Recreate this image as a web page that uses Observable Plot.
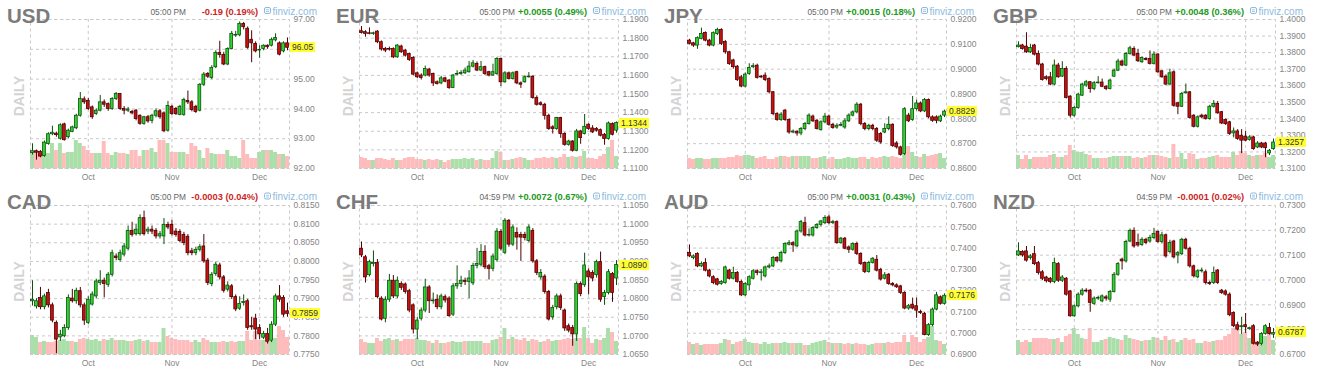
<!DOCTYPE html>
<html><head><meta charset="utf-8">
<script src="https://cdn.jsdelivr.net/npm/d3@7"></script>
<script src="https://cdn.jsdelivr.net/npm/@observablehq/plot@0.6"></script>
<style>
body{margin:0;background:#fff;}
#root{position:relative;width:1319px;height:382px;overflow:hidden;font-family:"Liberation Sans",Arial,sans-serif;}
.panel{position:absolute;width:330px;height:191px;}
.panel svg{position:absolute;left:0;top:0;}
.last{position:absolute;left:290px;height:10px;line-height:10px;padding:0 2px;font-size:8.5px;background:#ffff33;color:#333;white-space:nowrap;}
</style></head><body><div id="root"></div>
<script>
// Trading days (Sep 13 – Dec 10, 2021)
const dates = [
"2021-09-13","2021-09-14","2021-09-15","2021-09-16","2021-09-17","2021-09-20","2021-09-21","2021-09-22","2021-09-23","2021-09-24","2021-09-27","2021-09-28","2021-09-29","2021-09-30",
"2021-10-01","2021-10-04","2021-10-05","2021-10-06","2021-10-07","2021-10-08","2021-10-11","2021-10-12","2021-10-13","2021-10-14","2021-10-15","2021-10-18","2021-10-19","2021-10-20","2021-10-21","2021-10-22","2021-10-25","2021-10-26","2021-10-27","2021-10-28","2021-10-29",
"2021-11-01","2021-11-02","2021-11-03","2021-11-04","2021-11-05","2021-11-08","2021-11-09","2021-11-10","2021-11-11","2021-11-12","2021-11-15","2021-11-16","2021-11-17","2021-11-18","2021-11-19","2021-11-22","2021-11-23","2021-11-24","2021-11-25","2021-11-26","2021-11-29","2021-11-30",
"2021-12-01","2021-12-02","2021-12-03","2021-12-06","2021-12-07","2021-12-08","2021-12-09","2021-12-10"];
const monthTicks = ["2021-10-01","2021-11-01","2021-12-01"];
const monthLabels = ["Oct","Nov","Dec"];

// Each row: [open, high, low, close, relative volume]
const USD = [
[92.52,92.83,92.45,92.58,16],[92.58,92.62,92.28,92.53,16],[92.56,92.60,92.36,92.40,15],[92.42,92.92,92.38,92.87,14],[92.82,93.20,92.78,93.15,15],
[93.15,93.42,93.10,93.20,25],[93.17,93.22,93.05,93.12,18],[93.00,93.50,92.95,93.45,25],[93.48,93.52,92.92,92.95,15],[93.05,93.32,93.00,93.27,16],
[93.23,93.42,93.20,93.38,16],[93.35,93.82,93.30,93.77,28],[93.77,94.55,93.72,94.33,25],[94.32,94.40,94.15,94.22,22],[94.27,94.35,93.95,94.00,18],
[94.05,94.10,93.65,93.72,15],[93.83,94.00,93.78,93.94,15],[93.94,94.45,93.90,94.22,15],[94.22,94.30,94.05,94.14,27],[94.16,94.20,93.92,94.00,15],
[94.00,94.38,93.95,94.33,13],[94.33,94.55,94.28,94.50,16],[94.50,94.52,93.95,94.00,15],[94.00,94.08,93.80,93.94,15],[93.94,94.05,93.88,93.98,14],
[93.90,93.95,93.80,93.85,18],[93.94,93.98,93.60,93.66,18],[93.77,93.80,93.45,93.50,12],[93.50,93.75,93.45,93.72,18],[93.72,93.78,93.52,93.58,18],
[93.60,93.82,93.50,93.77,20],[93.77,94.00,93.70,93.92,16],[93.92,93.98,93.65,93.72,28],[93.85,93.90,93.20,93.25,28],[93.27,94.25,93.22,94.10,25],
[94.07,94.12,93.78,93.83,16],[94.00,94.05,93.78,93.83,16],[93.80,94.12,93.77,94.07,16],[93.80,94.36,93.75,94.30,16],[94.27,94.60,94.15,94.22,14],
[94.22,94.28,93.90,93.96,25],[94.07,94.12,93.85,93.90,22],[93.94,94.85,93.90,94.81,18],[94.81,95.22,94.75,95.15,10],[95.17,95.22,95.02,95.08,20],
[95.04,95.45,94.98,95.37,15],[95.40,95.95,95.35,95.88,14],[95.88,96.27,95.70,95.81,14],[95.81,95.90,95.45,95.49,14],[95.49,96.05,95.45,96.01,18],
[96.01,96.60,95.98,96.52,12],[96.46,96.60,96.40,96.48,12],[96.47,96.92,96.42,96.85,10],[96.85,96.90,96.65,96.74,28],[96.69,96.75,96.00,96.05,14],
[96.32,96.62,95.55,96.20,10],[96.18,96.25,95.88,95.93,10],[95.96,96.12,95.70,95.98,16],[96.01,96.15,95.95,96.12,18],[96.12,96.15,96.00,96.07,18],
[96.12,96.38,96.08,96.32,18],[96.30,96.52,96.25,96.38,16],[96.20,96.25,95.78,95.82,14],[95.93,96.25,95.88,96.20,14],[96.20,96.38,95.95,96.05,12]];

const EUR = [
[1.1837,1.1862,1.1822,1.1828,11],[1.1832,1.1840,1.1805,1.1823,10],[1.1826,1.1855,1.1818,1.1823,8],[1.1823,1.1832,1.1815,1.1826,8],[1.1835,1.1840,1.1770,1.1778,10],
[1.1778,1.1785,1.1730,1.1739,10],[1.1742,1.1750,1.1722,1.1733,9],[1.1742,1.1752,1.1730,1.1738,8],[1.1742,1.1748,1.1690,1.1697,10],[1.1697,1.1765,1.1692,1.1760,8],
[1.1755,1.1762,1.1718,1.1724,8],[1.1733,1.1740,1.1698,1.1706,10],[1.1715,1.1720,1.1675,1.1683,11],[1.1694,1.1700,1.1598,1.1604,11],[1.1611,1.1618,1.1582,1.1590,9],
[1.1599,1.1608,1.1575,1.1586,9],[1.1599,1.1650,1.1592,1.1634,8],[1.1631,1.1638,1.1590,1.1599,9],[1.1608,1.1612,1.1540,1.1557,8],[1.1563,1.1570,1.1548,1.1554,9],
[1.1557,1.1595,1.1550,1.1584,8],[1.1584,1.1590,1.1560,1.1566,6],[1.1572,1.1578,1.1525,1.1532,8],[1.1532,1.1605,1.1530,1.1599,9],[1.1604,1.1625,1.1598,1.1608,9],
[1.1608,1.1625,1.1600,1.1613,9],[1.1611,1.1640,1.1605,1.1626,10],[1.1617,1.1675,1.1612,1.1647,9],[1.1647,1.1680,1.1640,1.1665,10],[1.1661,1.1672,1.1620,1.1626,8],
[1.1626,1.1675,1.1620,1.1644,9],[1.1644,1.1650,1.1600,1.1608,8],[1.1617,1.1622,1.1592,1.1599,8],[1.1599,1.1660,1.1595,1.1617,10],[1.1608,1.1695,1.1600,1.1688,17],
[1.1688,1.1692,1.1540,1.1563,16],[1.1563,1.1620,1.1558,1.1611,8],[1.1611,1.1618,1.1575,1.1581,8],[1.1581,1.1618,1.1575,1.1611,9],[1.1617,1.1622,1.1550,1.1557,10],
[1.1557,1.1565,1.1530,1.1550,11],[1.1563,1.1598,1.1558,1.1590,10],[1.1590,1.1615,1.1585,1.1593,8],[1.1593,1.1598,1.1472,1.1478,8],[1.1478,1.1490,1.1435,1.1442,10],
[1.1450,1.1458,1.1435,1.1442,10],[1.1442,1.1450,1.1360,1.1383,11],[1.1383,1.1392,1.1305,1.1312,10],[1.1321,1.1330,1.1285,1.1312,11],[1.1312,1.1375,1.1305,1.1371,10],
[1.1371,1.1375,1.1262,1.1285,11],[1.1285,1.1292,1.1220,1.1227,14],[1.1227,1.1252,1.1220,1.1245,11],[1.1245,1.1250,1.1188,1.1195,12],[1.1195,1.1310,1.1190,1.1299,11],
[1.1299,1.1305,1.1230,1.1263,12],[1.1285,1.1390,1.1280,1.1324,17],[1.1335,1.1340,1.1305,1.1312,10],[1.1315,1.1330,1.1288,1.1294,10],[1.1312,1.1320,1.1295,1.1303,9],
[1.1306,1.1312,1.1270,1.1276,12],[1.1281,1.1288,1.1225,1.1258,14],[1.1258,1.1350,1.1252,1.1342,21],[1.1339,1.1345,1.1275,1.1281,28],[1.1303,1.1350,1.1290,1.1344,12]];

const JPY = [
[0.9115,0.9120,0.9098,0.9102,10],[0.9104,0.9108,0.9088,0.9095,9],[0.9095,0.9130,0.9080,0.9125,10],[0.9122,0.9165,0.9118,0.9142,10],[0.9146,0.9150,0.9110,0.9115,9],
[0.9115,0.9120,0.9090,0.9095,9],[0.9095,0.9150,0.9090,0.9145,10],[0.9142,0.9165,0.9135,0.9158,10],[0.9158,0.9163,0.9095,0.9102,10],[0.9109,0.9115,0.9060,0.9068,10],
[0.9068,0.9072,0.9015,0.9021,11],[0.9035,0.9040,0.9000,0.9008,11],[0.9010,0.9015,0.8950,0.8956,13],[0.8967,0.8975,0.8925,0.8930,12],[0.8930,0.8985,0.8925,0.8978,13],
[0.8981,0.9022,0.8975,0.9005,13],[0.9008,0.9022,0.9002,0.9012,12],[0.9014,0.9020,0.8960,0.8965,10],[0.8970,0.8975,0.8962,0.8967,11],[0.8974,0.8985,0.8950,0.8956,12],
[0.8960,0.8965,0.8900,0.8907,9],[0.8907,0.8910,0.8812,0.8819,9],[0.8819,0.8825,0.8790,0.8795,11],[0.8795,0.8825,0.8790,0.8817,12],[0.8833,0.8838,0.8790,0.8795,12],
[0.8795,0.8800,0.8738,0.8745,11],[0.8745,0.8755,0.8740,0.8749,12],[0.8748,0.8752,0.8730,0.8741,12],[0.8741,0.8765,0.8732,0.8759,12],[0.8759,0.8785,0.8752,0.8779,12],
[0.8779,0.8820,0.8775,0.8813,12],[0.8809,0.8815,0.8785,0.8790,10],[0.8792,0.8798,0.8755,0.8759,10],[0.8755,0.8792,0.8750,0.8786,11],[0.8786,0.8822,0.8780,0.8809,12],
[0.8809,0.8815,0.8770,0.8776,9],[0.8776,0.8782,0.8758,0.8763,11],[0.8765,0.8780,0.8758,0.8772,9],[0.8772,0.8785,0.8768,0.8775,9],[0.8765,0.8800,0.8758,0.8790,10],
[0.8790,0.8820,0.8785,0.8813,11],[0.8813,0.8832,0.8808,0.8826,10],[0.8826,0.8865,0.8820,0.8857,10],[0.8857,0.8862,0.8772,0.8779,11],[0.8779,0.8785,0.8752,0.8759,11],
[0.8759,0.8778,0.8752,0.8772,9],[0.8772,0.8778,0.8752,0.8759,11],[0.8759,0.8765,0.8705,0.8712,10],[0.8739,0.8745,0.8698,0.8705,11],[0.8745,0.8780,0.8740,0.8759,12],
[0.8759,0.8808,0.8752,0.8776,11],[0.8776,0.8780,0.8685,0.8691,12],[0.8701,0.8708,0.8678,0.8685,11],[0.8685,0.8690,0.8650,0.8655,10],[0.8658,0.8845,0.8652,0.8839,15],
[0.8813,0.8822,0.8785,0.8790,22],[0.8795,0.8890,0.8790,0.8839,16],[0.8839,0.8875,0.8832,0.8862,12],[0.8862,0.8868,0.8825,0.8830,11],[0.8830,0.8882,0.8825,0.8876,14],
[0.8876,0.8880,0.8800,0.8806,12],[0.8806,0.8812,0.8786,0.8792,13],[0.8806,0.8812,0.8780,0.8792,14],[0.8790,0.8815,0.8785,0.8809,15],[0.8813,0.8835,0.8805,0.8829,10]];

const GBP = [
[1.3833,1.3865,1.3828,1.3843,13],[1.3843,1.3850,1.3815,1.3822,9],[1.3836,1.3920,1.3795,1.3802,13],[1.3802,1.3850,1.3795,1.3828,9],[1.3843,1.3850,1.3780,1.3788,11],
[1.3792,1.3810,1.3720,1.3728,11],[1.3728,1.3735,1.3628,1.3635,11],[1.3651,1.3660,1.3630,1.3641,11],[1.3651,1.3680,1.3600,1.3607,13],[1.3607,1.3755,1.3600,1.3722,14],
[1.3722,1.3735,1.3645,1.3651,11],[1.3655,1.3745,1.3650,1.3701,11],[1.3701,1.3715,1.3520,1.3526,13],[1.3534,1.3540,1.3405,1.3419,23],[1.3419,1.3475,1.3410,1.3465,18],
[1.3465,1.3555,1.3458,1.3546,16],[1.3540,1.3615,1.3535,1.3607,16],[1.3601,1.3632,1.3590,1.3621,14],[1.3621,1.3625,1.3555,1.3580,13],[1.3580,1.3625,1.3570,1.3615,10],
[1.3615,1.3655,1.3610,1.3619,10],[1.3619,1.3640,1.3588,1.3594,10],[1.3594,1.3600,1.3570,1.3580,10],[1.3580,1.3640,1.3575,1.3631,11],[1.3655,1.3700,1.3650,1.3691,12],
[1.3691,1.3760,1.3685,1.3746,12],[1.3746,1.3755,1.3715,1.3722,12],[1.3722,1.3800,1.3715,1.3792,12],[1.3792,1.3838,1.3785,1.3826,12],[1.3822,1.3835,1.3775,1.3782,10],
[1.3792,1.3820,1.3740,1.3748,11],[1.3742,1.3775,1.3735,1.3768,10],[1.3762,1.3770,1.3750,1.3756,11],[1.3762,1.3810,1.3725,1.3732,13],[1.3732,1.3805,1.3725,1.3788,13],
[1.3788,1.3795,1.3675,1.3681,13],[1.3687,1.3692,1.3645,1.3651,12],[1.3655,1.3665,1.3600,1.3607,11],[1.3607,1.3700,1.3600,1.3675,10],[1.3681,1.3690,1.3470,1.3479,24],
[1.3494,1.3500,1.3425,1.3473,11],[1.3473,1.3560,1.3468,1.3550,15],[1.3554,1.3610,1.3550,1.3560,9],[1.3560,1.3565,1.3398,1.3405,15],[1.3419,1.3425,1.3345,1.3352,14],
[1.3352,1.3418,1.3345,1.3409,9],[1.3419,1.3428,1.3400,1.3409,10],[1.3419,1.3425,1.3392,1.3399,10],[1.3399,1.3482,1.3392,1.3473,11],[1.3473,1.3510,1.3465,1.3490,12],
[1.3490,1.3505,1.3428,1.3433,13],[1.3440,1.3445,1.3365,1.3372,11],[1.3393,1.3400,1.3360,1.3368,11],[1.3379,1.3385,1.3300,1.3308,11],[1.3312,1.3345,1.3285,1.3324,16],
[1.3324,1.3335,1.3270,1.3278,13],[1.3298,1.3335,1.3190,1.3268,17],[1.3292,1.3325,1.3262,1.3268,15],[1.3272,1.3298,1.3265,1.3288,13],[1.3288,1.3295,1.3210,1.3217,12],
[1.3227,1.3262,1.3220,1.3251,13],[1.3251,1.3258,1.3220,1.3227,13],[1.3251,1.3258,1.3165,1.3223,15],[1.3191,1.3215,1.3178,1.3207,11],[1.3217,1.3278,1.3210,1.3257,13]];

const CAD = [
[0.7893,0.7948,0.7880,0.7897,19],[0.7879,0.7900,0.7872,0.7893,17],[0.7902,0.7930,0.7870,0.7877,12],[0.7877,0.7912,0.7870,0.7906,13],[0.7915,0.7925,0.7875,0.7882,12],
[0.7882,0.7888,0.7835,0.7841,12],[0.7835,0.7840,0.7752,0.7790,13],[0.7796,0.7815,0.7785,0.7803,14],[0.7799,0.7830,0.7795,0.7821,15],[0.7821,0.7910,0.7815,0.7902,13],
[0.7900,0.7925,0.7888,0.7893,13],[0.7893,0.7928,0.7885,0.7921,12],[0.7920,0.7930,0.7875,0.7882,15],[0.7882,0.7888,0.7828,0.7841,16],[0.7835,0.7905,0.7830,0.7897,15],
[0.7884,0.7918,0.7880,0.7911,14],[0.7906,0.7952,0.7900,0.7946,15],[0.7942,0.7975,0.7935,0.7948,13],[0.7948,0.7955,0.7902,0.7939,15],[0.7937,0.7970,0.7930,0.7964,14],
[0.7964,0.8030,0.7958,0.8022,16],[0.8013,0.8020,0.8002,0.8009,14],[0.8004,0.8030,0.7998,0.8022,14],[0.8018,0.8048,0.8012,0.8040,14],[0.8034,0.8095,0.8028,0.8082,13],
[0.8082,0.8105,0.8065,0.8071,13],[0.8073,0.8100,0.8068,0.8085,14],[0.8073,0.8125,0.8068,0.8116,15],[0.8116,0.8135,0.8068,0.8073,13],[0.8080,0.8092,0.8072,0.8085,14],
[0.8085,0.8095,0.8072,0.8080,12],[0.8082,0.8088,0.8060,0.8067,12],[0.8067,0.8080,0.8060,0.8073,12],[0.8067,0.8115,0.8045,0.8098,26],[0.8098,0.8105,0.8085,0.8091,18],
[0.8098,0.8110,0.8068,0.8073,16],[0.8080,0.8088,0.8065,0.8071,15],[0.8079,0.8085,0.8050,0.8055,14],[0.8071,0.8078,0.8042,0.8049,14],[0.8066,0.8072,0.8015,0.8022,14],
[0.8027,0.8035,0.8015,0.8022,12],[0.8022,0.8038,0.8015,0.8031,14],[0.8031,0.8045,0.8025,0.8038,12],[0.8040,0.8072,0.7995,0.8000,16],[0.8002,0.8008,0.7935,0.7942,14],
[0.7939,0.7970,0.7932,0.7964,12],[0.7966,0.7998,0.7960,0.7991,12],[0.7989,0.7995,0.7950,0.7957,12],[0.7957,0.7962,0.7915,0.7921,13],[0.7924,0.7945,0.7918,0.7935,12],
[0.7933,0.7938,0.7898,0.7904,13],[0.7904,0.7910,0.7865,0.7871,12],[0.7873,0.7905,0.7868,0.7886,13],[0.7888,0.7910,0.7880,0.7891,13],[0.7893,0.7898,0.7815,0.7821,23],
[0.7826,0.7850,0.7815,0.7823,14],[0.7846,0.7858,0.7790,0.7817,23],[0.7821,0.7830,0.7790,0.7804,14],[0.7795,0.7812,0.7790,0.7805,14],[0.7805,0.7820,0.7778,0.7784,12],
[0.7787,0.7838,0.7782,0.7830,13],[0.7830,0.7912,0.7825,0.7906,16],[0.7906,0.7935,0.7890,0.7897,28],[0.7902,0.7908,0.7850,0.7857,24],[0.7866,0.7888,0.7850,0.7859,17]];

const CHF = [
[1.0934,1.0952,1.0910,1.0916,15],[1.0911,1.0916,1.0842,1.0857,12],[1.0863,1.0903,1.0858,1.0898,11],[1.0893,1.0928,1.0885,1.0896,11],[1.0896,1.0905,1.0800,1.0804,16],
[1.0800,1.0805,1.0740,1.0744,13],[1.0746,1.0805,1.0735,1.0797,15],[1.0797,1.0865,1.0790,1.0848,16],[1.0848,1.0862,1.0800,1.0806,14],[1.0806,1.0858,1.0800,1.0848,15],
[1.0839,1.0845,1.0822,1.0829,13],[1.0838,1.0842,1.0812,1.0818,15],[1.0820,1.0825,1.0762,1.0768,15],[1.0782,1.0786,1.0705,1.0717,15],[1.0717,1.0750,1.0690,1.0741,16],
[1.0746,1.0775,1.0740,1.0768,14],[1.0768,1.0852,1.0762,1.0830,14],[1.0830,1.0835,1.0760,1.0793,13],[1.0793,1.0815,1.0785,1.0795,11],[1.0797,1.0810,1.0770,1.0777,14],
[1.0777,1.0812,1.0770,1.0806,11],[1.0804,1.0810,1.0788,1.0795,11],[1.0800,1.0805,1.0750,1.0753,12],[1.0757,1.0840,1.0752,1.0833,13],[1.0833,1.0888,1.0825,1.0839,12],
[1.0839,1.0860,1.0830,1.0848,12],[1.0848,1.0855,1.0835,1.0845,13],[1.0845,1.0875,1.0800,1.0854,13],[1.0841,1.0895,1.0835,1.0888,13],[1.0888,1.0935,1.0880,1.0893,13],
[1.0891,1.0945,1.0885,1.0925,13],[1.0925,1.0942,1.0878,1.0884,11],[1.0887,1.0892,1.0850,1.0880,11],[1.0880,1.0920,1.0872,1.0913,14],[1.0904,1.0988,1.0898,1.0980,15],
[1.0979,1.0985,1.0928,1.0934,17],[1.0923,1.1015,1.0918,1.1009,26],[1.1009,1.1012,1.0938,1.0945,15],[1.0945,1.0998,1.0940,1.0991,17],[1.0976,1.0990,1.0930,1.0964,15],
[1.0971,1.0978,1.0900,1.0964,14],[1.0971,1.0978,1.0955,1.0963,16],[1.0955,1.0998,1.0950,1.0991,13],[1.0982,1.0988,1.0895,1.0900,15],[1.0900,1.0905,1.0862,1.0869,14],
[1.0857,1.0878,1.0850,1.0869,12],[1.0859,1.0864,1.0812,1.0818,13],[1.0818,1.0822,1.0740,1.0744,15],[1.0750,1.0782,1.0742,1.0775,13],[1.0777,1.0812,1.0770,1.0806,14],
[1.0806,1.0812,1.0768,1.0775,14],[1.0768,1.0772,1.0712,1.0720,15],[1.0726,1.0732,1.0708,1.0714,16],[1.0721,1.0728,1.0672,1.0704,15],[1.0704,1.0845,1.0685,1.0839,16],
[1.0839,1.0845,1.0805,1.0812,16],[1.0836,1.0922,1.0830,1.0889,27],[1.0873,1.0880,1.0810,1.0857,16],[1.0869,1.0875,1.0845,1.0854,11],[1.0863,1.0903,1.0855,1.0898,15],
[1.0898,1.0925,1.0790,1.0797,14],[1.0804,1.0822,1.0782,1.0815,16],[1.0815,1.0878,1.0810,1.0871,26],[1.0866,1.0870,1.0790,1.0815,22],[1.0854,1.0902,1.0835,1.0890,13]];

const AUD = [
[0.7377,0.7415,0.7355,0.7361,12],[0.7353,0.7368,0.7345,0.7361,10],[0.7372,0.7378,0.7308,0.7314,11],[0.7314,0.7335,0.7308,0.7325,9],[0.7330,0.7350,0.7288,0.7294,10],
[0.7294,0.7300,0.7260,0.7267,10],[0.7263,0.7270,0.7228,0.7236,10],[0.7253,0.7258,0.7222,0.7228,10],[0.7231,0.7248,0.7225,0.7241,11],[0.7236,0.7315,0.7230,0.7309,15],
[0.7294,0.7300,0.7250,0.7256,14],[0.7256,0.7310,0.7250,0.7283,10],[0.7283,0.7290,0.7235,0.7241,12],[0.7241,0.7250,0.7172,0.7178,13],[0.7178,0.7238,0.7172,0.7231,15],
[0.7225,0.7270,0.7200,0.7263,12],[0.7256,0.7298,0.7250,0.7291,11],[0.7291,0.7298,0.7270,0.7283,11],[0.7283,0.7298,0.7245,0.7286,10],[0.7267,0.7315,0.7260,0.7309,12],
[0.7309,0.7325,0.7302,0.7314,10],[0.7314,0.7360,0.7308,0.7353,11],[0.7353,0.7360,0.7330,0.7338,11],[0.7338,0.7385,0.7330,0.7377,11],[0.7377,0.7425,0.7370,0.7419,12],
[0.7416,0.7435,0.7410,0.7423,11],[0.7423,0.7430,0.7380,0.7413,11],[0.7408,0.7485,0.7402,0.7478,11],[0.7478,0.7530,0.7470,0.7522,11],[0.7517,0.7545,0.7452,0.7459,9],
[0.7459,0.7490,0.7452,0.7462,9],[0.7459,0.7500,0.7452,0.7494,11],[0.7494,0.7515,0.7488,0.7509,12],[0.7509,0.7530,0.7500,0.7525,13],[0.7517,0.7552,0.7510,0.7541,14],
[0.7544,0.7555,0.7510,0.7517,12],[0.7517,0.7530,0.7510,0.7522,11],[0.7522,0.7528,0.7418,0.7423,11],[0.7423,0.7450,0.7418,0.7444,11],[0.7444,0.7450,0.7392,0.7397,10],
[0.7403,0.7410,0.7375,0.7392,11],[0.7392,0.7425,0.7385,0.7419,10],[0.7419,0.7428,0.7365,0.7372,11],[0.7372,0.7378,0.7318,0.7325,10],[0.7330,0.7335,0.7280,0.7288,10],
[0.7288,0.7338,0.7282,0.7330,9],[0.7330,0.7355,0.7325,0.7350,10],[0.7345,0.7365,0.7288,0.7294,11],[0.7298,0.7305,0.7245,0.7252,11],[0.7256,0.7285,0.7250,0.7272,11],
[0.7275,0.7280,0.7225,0.7231,12],[0.7231,0.7238,0.7218,0.7225,11],[0.7225,0.7232,0.7210,0.7216,12],[0.7220,0.7225,0.7182,0.7189,12],[0.7189,0.7195,0.7110,0.7116,19],
[0.7116,0.7135,0.7108,0.7127,12],[0.7134,0.7165,0.7110,0.7116,19],[0.7127,0.7165,0.7070,0.7106,17],[0.7100,0.7108,0.7088,0.7095,12],[0.7091,0.7098,0.6988,0.6991,15],
[0.6991,0.7045,0.6985,0.7038,17],[0.7038,0.7118,0.7030,0.7111,28],[0.7111,0.7192,0.7105,0.7178,14],[0.7169,0.7175,0.7132,0.7138,13],[0.7138,0.7185,0.7132,0.7176,10]];

const NZD = [
[0.7099,0.7150,0.7095,0.7115,14],[0.7113,0.7118,0.7092,0.7099,12],[0.7115,0.7135,0.7072,0.7078,14],[0.7088,0.7102,0.7080,0.7095,12],[0.7104,0.7135,0.7058,0.7064,16],
[0.7068,0.7075,0.7020,0.7028,16],[0.7031,0.7038,0.6998,0.7005,16],[0.7010,0.7015,0.6988,0.6995,16],[0.7005,0.7010,0.6985,0.6992,15],[0.6992,0.7088,0.6985,0.7068,15],
[0.7064,0.7070,0.6990,0.6997,16],[0.6997,0.7018,0.6990,0.7010,12],[0.7005,0.7010,0.6935,0.6941,18],[0.6954,0.6958,0.6850,0.6854,20],[0.6854,0.6900,0.6850,0.6894,26],
[0.6894,0.6948,0.6888,0.6941,20],[0.6941,0.6965,0.6935,0.6957,16],[0.6957,0.6965,0.6948,0.6954,15],[0.6957,0.6962,0.6870,0.6908,26],[0.6904,0.6932,0.6898,0.6925,12],
[0.6925,0.6935,0.6918,0.6928,12],[0.6914,0.6940,0.6908,0.6934,14],[0.6930,0.6938,0.6915,0.6925,15],[0.6921,0.6958,0.6910,0.6952,17],[0.6952,0.7030,0.6948,0.7021,16],
[0.7021,0.7070,0.7015,0.7064,15],[0.7082,0.7088,0.7040,0.7075,14],[0.7075,0.7160,0.7068,0.7153,19],[0.7155,0.7205,0.7150,0.7198,16],[0.7198,0.7210,0.7128,0.7135,15],
[0.7149,0.7185,0.7132,0.7139,14],[0.7141,0.7170,0.7135,0.7162,13],[0.7162,0.7168,0.7142,0.7149,14],[0.7155,0.7180,0.7148,0.7169,14],[0.7169,0.7208,0.7162,0.7185,17],
[0.7193,0.7198,0.7148,0.7153,16],[0.7153,0.7192,0.7145,0.7180,14],[0.7180,0.7185,0.7088,0.7095,18],[0.7113,0.7160,0.7105,0.7149,14],[0.7155,0.7160,0.7085,0.7091,15],
[0.7099,0.7115,0.7065,0.7108,12],[0.7104,0.7168,0.7098,0.7162,14],[0.7162,0.7168,0.7120,0.7126,16],[0.7126,0.7132,0.7048,0.7055,14],[0.7055,0.7060,0.7008,0.7015,15],
[0.7011,0.7042,0.7005,0.7035,11],[0.7035,0.7048,0.7028,0.7038,11],[0.7031,0.7040,0.6980,0.6988,13],[0.6988,0.6995,0.6978,0.6984,12],[0.6988,0.7052,0.6982,0.7028,13],
[0.7038,0.7042,0.6982,0.6988,14],[0.6957,0.6962,0.6942,0.6948,14],[0.6954,0.6960,0.6935,0.6941,18],[0.6941,0.6948,0.6852,0.6858,20],[0.6867,0.6872,0.6808,0.6814,26],
[0.6818,0.6830,0.6795,0.6800,24],[0.6810,0.6850,0.6780,0.6814,20],[0.6818,0.6865,0.6785,0.6810,22],[0.6802,0.6810,0.6798,0.6806,16],[0.6814,0.6820,0.6738,0.6743,20],
[0.6747,0.6752,0.6732,0.6740,13],[0.6743,0.6788,0.6735,0.6783,14],[0.6783,0.6820,0.6778,0.6814,18],[0.6807,0.6825,0.6778,0.6783,22],[0.6780,0.6805,0.6765,0.6787,14]];

// Y-axis tick values per panel
const usdTicks = [92,93,94,95,96,97];
const eurTicks = [1.11,1.12,1.13,1.14,1.15,1.16,1.17,1.18,1.19];
const jpyTicks = [0.86,0.87,0.88,0.89,0.90,0.91,0.92];
const gbpTicks = [1.31,1.32,1.33,1.34,1.35,1.36,1.37,1.38,1.39,1.40];
const cadTicks = [0.775,0.780,0.785,0.790,0.795,0.800,0.805,0.810,0.815];
const chfTicks = [1.065,1.070,1.075,1.080,1.085,1.090,1.095,1.100,1.105];
const audTicks = [0.69,0.70,0.71,0.72,0.73,0.74,0.75,0.76];
const nzdTicks = [0.67,0.68,0.69,0.70,0.71,0.72,0.73];

const names = ["USD","EUR","JPY","GBP","CAD","CHF","AUD","NZD"];
const times = ["05:00 PM","05:00 PM","05:00 PM","05:00 PM","05:00 PM","04:59 PM","05:00 PM","04:59 PM"];
const changes = ["-0.19 (0.19%)","+0.0055 (0.49%)","+0.0015 (0.18%)","+0.0048 (0.36%)","-0.0003 (0.04%)","+0.0072 (0.67%)","+0.0031 (0.43%)","-0.0001 (0.02%)"];
const seriesList = [USD,EUR,JPY,GBP,CAD,CHF,AUD,NZD];
const tickList = [usdTicks,eurTicks,jpyTicks,gbpTicks,cadTicks,chfTicks,audTicks,nzdTicks];
const digitList = [2,4,4,4,4,4,4,4];

const FONT = "Liberation Sans, Arial, sans-serif";
const W = 330, H = 191, ML = 30, MR = 41;
const colLefts = [0,329,657,986];
const monthFmt = d => monthLabels[monthTicks.indexOf(d)];

const root = document.getElementById("root");

names.forEach((name, k) => {
  const row = Math.floor(k / 4), col = k % 4;
  const MT = row === 0 ? 19 : 14;
  const MB = row === 0 ? 23 : 28;
  const hb = row === 0 ? 0 : -5.5;
  const ticks = tickList[k];
  const digits = digitList[k];
  const data = seriesList[k].map((r, i) => ({date: dates[i], o: r[0], h: r[1], l: r[2], c: r[3], v: r[4]}));
  const up = data.filter(d => d.c >= d.o);
  const dn = data.filter(d => d.c < d.o);

  const panel = document.createElement("div");
  panel.className = "panel";
  panel.style.left = colLefts[col] + "px";
  panel.style.top = (row * 191) + "px";
  root.appendChild(panel);

  // volume layer
  const vol = Plot.plot({
    width: W, height: H, marginLeft: ML, marginRight: MR, marginTop: MT, marginBottom: MB,
    style: {background: "transparent", overflow: "visible"},
    x: {type: "band", domain: dates, padding: 0, axis: null},
    y: {domain: [0, H - MT - MB], axis: null},
    marks: [
      Plot.barY(up, {x: "date", y: "v", fill: "#aadfaa"}),
      Plot.barY(dn, {x: "date", y: "v", fill: "#ffbcbc"})
    ]
  });
  panel.appendChild(vol);

  // price layer
  const price = Plot.plot({
    width: W, height: H, marginLeft: ML, marginRight: MR, marginTop: MT, marginBottom: MB,
    style: {background: "transparent", overflow: "visible", fontFamily: FONT, fontSize: "8.5px", color: "#858585"},
    x: {type: "band", domain: dates, paddingInner: 0.3, paddingOuter: 0.15, ticks: monthTicks, tickFormat: monthFmt, tickSize: 0, tickPadding: 5, label: null},
    y: {domain: [ticks[0], ticks[ticks.length - 1]], axis: "right", ticks: ticks, tickFormat: d => d.toFixed(digits), tickSize: 0, tickPadding: 4, label: null},
    marks: [
      Plot.ruleY(ticks, {stroke: "#c9c9c9", strokeDasharray: "3,3"}),
      Plot.ruleX(monthTicks, {stroke: "#c9c9c9", strokeDasharray: "3,3"}),
      Plot.frame({stroke: "#c9c9c9", strokeDasharray: "3,3"}),
      Plot.ruleX(up, {x: "date", y1: "l", y2: "h", stroke: "#0d4f0d", strokeWidth: 1}),
      Plot.ruleX(dn, {x: "date", y1: "l", y2: "h", stroke: "#4d0000", strokeWidth: 1}),
      Plot.barY(up, {x: "date", y1: "o", y2: "c", fill: "#2fd42f", stroke: "#0d4f0d", strokeWidth: 0.8}),
      Plot.barY(dn, {x: "date", y1: "o", y2: "c", fill: "#c81010", stroke: "#4d0000", strokeWidth: 0.8})
    ]
  });
  panel.appendChild(price);

  // header & side text
  const hdr = d3.create("svg").attr("width", W).attr("height", H).attr("font-family", FONT);
  hdr.append("text").attr("x", 7).attr("y", 23 + hb).attr("font-size", 20.5).attr("font-weight", "bold").attr("fill", "#7b7b7b").text(name);
  hdr.append("text").attr("x", 186).attr("y", 14.5 + hb).attr("text-anchor", "end").attr("font-size", 8.3).attr("fill", "#666").text(times[k]);
  const chg = changes[k];
  hdr.append("text").attr("x", 258).attr("y", 14.5 + hb).attr("text-anchor", "end").attr("font-size", 9.3).attr("font-weight", "bold")
    .attr("fill", chg.startsWith("-") ? "#cc1f1f" : "#229922").text(chg);
  hdr.append("rect").attr("x", 264.5).attr("y", 7.5 + hb).attr("width", 6).attr("height", 6).attr("rx", 1.5).attr("fill", "none").attr("stroke", "#8dbbe0").attr("stroke-width", 1);
  hdr.append("line").attr("x1", 266).attr("x2", 269).attr("y1", 9.8 + hb).attr("y2", 9.8 + hb).attr("stroke", "#8dbbe0").attr("stroke-width", 0.8);
  hdr.append("line").attr("x1", 266).attr("x2", 269).attr("y1", 11.5 + hb).attr("y2", 11.5 + hb).attr("stroke", "#8dbbe0").attr("stroke-width", 0.8);
  hdr.append("text").attr("x", 317).attr("y", 14.5 + hb).attr("text-anchor", "end").attr("font-size", 10).attr("fill", "#8dbbe0").text("finviz.com");
  hdr.append("text").attr("transform", `translate(24,${96 + hb}) rotate(-90)`).attr("text-anchor", "middle")
    .attr("font-size", 14).attr("font-weight", "bold").attr("fill", "#d4d4d4").text("DAILY");
  panel.appendChild(hdr.node());

  // last price label
  const last = data[data.length - 1];
  let yPix;
  try {
    const ys = price.scale("y");
    yPix = ys.apply(last.c);
  } catch (e) {
    const t0 = ticks[0], t1 = ticks[ticks.length - 1];
    yPix = MT + (t1 - last.c) / (t1 - t0) * (H - MT - MB);
  }
  const lab = document.createElement("div");
  lab.className = "last";
  lab.style.top = (yPix - 5) + "px";
  lab.textContent = last.c.toFixed(digits);
  panel.appendChild(lab);
});
</script>
</body></html>
